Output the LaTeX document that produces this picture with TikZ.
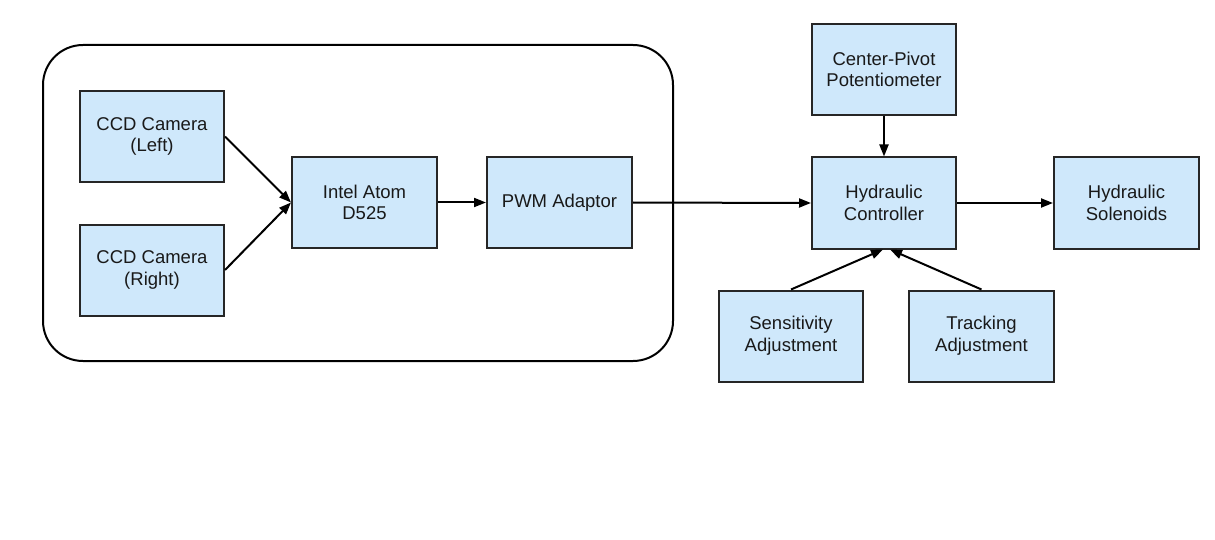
\documentclass[tikz,border=0pt]{standalone}
\usepackage{fontspec}
\setmainfont{Liberation Sans}
\usetikzlibrary{arrows.meta}
\definecolor{boxfill}{HTML}{CFE8FB}
\begin{document}
\begin{tikzpicture}[x=1pt,y=-1pt,
  blk/.style={draw=black!85, line width=2pt, fill=boxfill, minimum width=#1, minimum height=91pt,
    inner sep=0pt, align=center, font=\fontsize{18.5}{21.7}\selectfont, text=black!90},
  blk/.default=144pt,
  conn/.style={draw=black, line width=2pt, -{Triangle[length=12pt,width=9pt]}}]
\useasboundingbox[fill=white] (0,0) rectangle (1215,540);
\draw[line width=2pt, rounded corners=40pt] (43,45) rectangle (673,361);
\node[blk] (L) at (152,136.5) {CCD Camera\\(Left)};
\node[blk] (R) at (152,270) {CCD Camera\\(Right)};
\node[blk=145pt] (I) at (364.5,202.5) {Intel Atom\\D525};
\node[blk=145pt] (P) at (559.5,202.5) {PWM Adaptor};
\node[blk] (CP) at (884,69.5) {Center-Pivot\\Potentiometer};
\node[blk] (HC) at (884,203) {Hydraulic\\Controller};
\node[blk=145pt] (HS) at (1126.5,203) {Hydraulic\\Solenoids};
\node[blk] (S) at (791,336) {Sensitivity\\Adjustment};
\node[blk=145pt] (T) at (981.5,336) {Tracking\\Adjustment};
\draw[conn] (L.east) -- (I.west);
\draw[conn] (R.east) -- (I.west);
\draw[conn] (I.east) -- (P.west);
\draw[conn] (P.east) -- (HC.west);
\draw[conn] (CP.south) -- (HC.north);
\draw[conn] (HC.east) -- (HS.west);
\draw[conn] (S.north) -- ([xshift=-1pt]HC.south);
\draw[conn] (T.north) -- ([xshift=6pt]HC.south);
\end{tikzpicture}
\end{document}
